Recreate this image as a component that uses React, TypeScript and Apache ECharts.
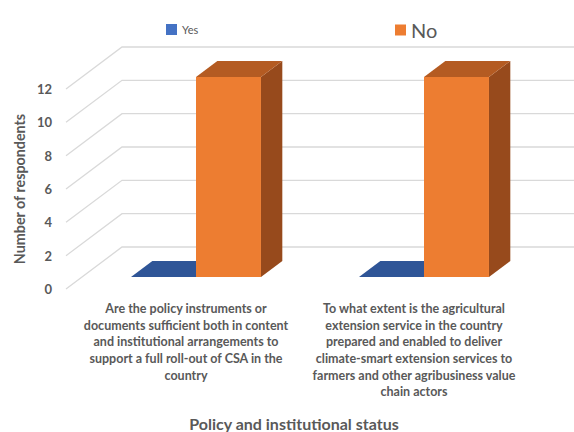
import React, { useEffect, useRef } from "react";
import * as echarts from "echarts";

const CATEGORIES = [
  "Are the policy instruments or\ndocuments sufficient both in content\nand institutional arrangements to\nsupport a full roll-out of CSA in the\ncountry",
  "To what extent is the agricultural\nextension service in the country\nprepared and enabled to deliver\nclimate-smart extension services to\nfarmers and other agribusiness value\nchain actors",
];
const YES_VALUES = [0, 0];
const NO_VALUES = [12, 12];
const Y_TICKS = [0, 2, 4, 6, 8, 10, 12];
const SERIES_NAMES = ["Yes", "No"];

// 3D look (styles)
const DEPTH_X = 56;
const DEPTH_Y = 42;
const BAR_D1 = 2 / 7;
const BAR_D2 = 2 / 3;
const BAR_FRAC = 0.285;
const GRID_COLOR = "#D9D9D9";
const TEXT_COLOR = "#595959";
const FONT = "Lato, 'Liberation Sans', sans-serif";

const COLORS = {
  Yes: { front: "#4472C4", top: "#2F5597", side: "#264478" },
  No: { front: "#ED7D31", top: "#B45B22", side: "#974A1C" },
};

function barRenderer(side: number, c: { front: string; top: string; side: string }) {
  return (params: any, api: any) => {
    const cat = api.value(0);
    const val = api.value(1);
    const top = api.coord([cat, val]);
    const base = api.coord([cat, 0]);
    const band = api.size([1, 0])[0];
    const w = band * BAR_FRAC;
    const x0 = side < 0 ? top[0] - w : top[0];
    const x1 = x0 + w;
    const fx = DEPTH_X * BAR_D1;
    const fy = DEPTH_Y * BAR_D1;
    const bx = DEPTH_X * BAR_D2;
    const by = DEPTH_Y * BAR_D2;
    const yT = top[1];
    const yB = base[1];
    const children: any[] = [];
    children.push({
      type: "polygon",
      shape: {
        points: [
          [x1 + fx, yT - fy],
          [x1 + bx, yT - by],
          [x1 + bx, yB - by],
          [x1 + fx, yB - fy],
        ],
      },
      style: { fill: c.side },
    });
    if (yB - yT > 0) {
      children.push({
        type: "rect",
        shape: { x: x0 + fx, y: yT - fy, width: w, height: yB - yT },
        style: { fill: c.front },
      });
    }
    children.push({
      type: "polygon",
      shape: {
        points: [
          [x0 + fx, yT - fy],
          [x1 + fx, yT - fy],
          [x1 + bx, yT - by],
          [x0 + bx, yT - by],
        ],
      },
      style: { fill: c.top },
    });
    return { type: "group", children };
  };
}

function gridRenderer(params: any, api: any) {
  const v = api.value(1);
  const p = api.coord([0, v]);
  const band = api.size([1, 0])[0];
  const left = p[0] - band / 2;
  const right = left + band * CATEGORIES.length;
  return {
    type: "polyline",
    shape: {
      points: [
        [left, p[1]],
        [left + DEPTH_X, p[1] - DEPTH_Y],
        [right + DEPTH_X, p[1] - DEPTH_Y],
      ],
    },
    style: { stroke: GRID_COLOR, lineWidth: 1.3, fill: "none" },
  };
}

export default function App() {
  const ref = useRef<HTMLDivElement>(null);
  useEffect(() => {
    if (!ref.current) return;
    const chart = echarts.init(ref.current, null, { renderer: "svg" });
    chart.setOption({
      animation: false,
      backgroundColor: "#ffffff",
      textStyle: { fontFamily: FONT },
      legend: [
        {
          data: [SERIES_NAMES[0]],
          left: 161,
          top: 19,
          icon: "rect",
          itemWidth: 11,
          itemHeight: 11,
          textStyle: { fontSize: 11, color: TEXT_COLOR, fontFamily: FONT },
        },
        {
          data: [SERIES_NAMES[1]],
          left: 390,
          top: 15,
          icon: "rect",
          itemWidth: 11,
          itemHeight: 11,
          textStyle: { fontSize: 20, color: TEXT_COLOR, fontFamily: FONT },
        },
      ],
      grid: { left: 66, right: 52, top: 89, bottom: 139, containLabel: false },
      xAxis: {
        type: "category",
        data: CATEGORIES,
        axisLine: { show: false },
        axisTick: { show: false },
        splitLine: { show: false },
        axisLabel: {
          interval: 0,
          margin: 11,
          fontSize: 12.5,
          fontWeight: "bold",
          lineHeight: 16.7,
          color: TEXT_COLOR,
          fontFamily: FONT,
          padding: [0, 0, 0, 12],
        },
        name: "Policy and institutional status",
        nameLocation: "middle",
        nameGap: 126,
        nameTextStyle: { fontSize: 16, fontWeight: "bold", color: TEXT_COLOR, fontFamily: FONT },
      },
      yAxis: {
        type: "value",
        min: 0,
        max: 12,
        interval: 2,
        axisLine: { show: false },
        axisTick: { show: false },
        splitLine: { show: false },
        axisLabel: { margin: 14, fontSize: 13, fontWeight: "bold", color: TEXT_COLOR, fontFamily: FONT },
        name: "Number of respondents",
        nameLocation: "middle",
        nameGap: 39,
        nameTextStyle: { fontSize: 14.3, fontWeight: "bold", color: TEXT_COLOR, fontFamily: FONT },
      },
      series: [
        {
          type: "custom",
          name: "grid",
          silent: true,
          clip: false,
          renderItem: gridRenderer,
          data: Y_TICKS.map((v) => [0, v]),
        },
        {
          type: "custom",
          name: SERIES_NAMES[0],
          clip: false,
          itemStyle: { color: COLORS.Yes.front },
          renderItem: barRenderer(-1, COLORS.Yes),
          data: YES_VALUES.map((v, i) => [i, v]),
        },
        {
          type: "custom",
          name: SERIES_NAMES[1],
          clip: false,
          itemStyle: { color: COLORS.No.front },
          renderItem: barRenderer(1, COLORS.No),
          data: NO_VALUES.map((v, i) => [i, v]),
        },
      ],
    });
    return () => chart.dispose();
  }, []);
  return (
    <div
      ref={ref}
      style={{ position: "fixed", left: 0, top: 0, width: 574, height: 432 }}
    />
  );
}
